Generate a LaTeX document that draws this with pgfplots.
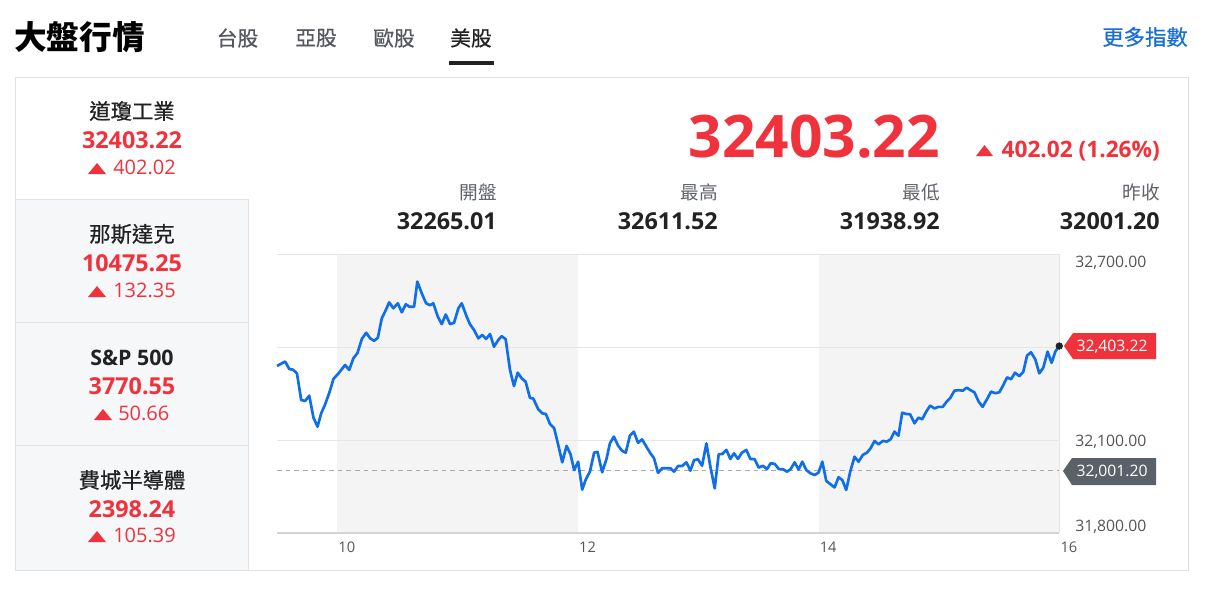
\documentclass[border=0pt]{standalone}
\usepackage{pgfplots}
\pgfplotsset{compat=1.18}
\usepackage{fontspec}
\setmainfont{Open Sans}
\newfontfamily\cjk{Noto Sans CJK TC}
\newfontfamily\cjkmed[FakeBold=0.6]{Noto Sans CJK TC}
\newcommand{\fsz}[1]{\fontsize{#1}{#1}\selectfont}
\definecolor{upred}{HTML}{F0323C}
\definecolor{lineblue}{HTML}{106EEB}
\definecolor{band}{HTML}{F4F4F5}
\definecolor{panel}{HTML}{F6F7F9}
\definecolor{bordergray}{HTML}{E2E2E2}
\definecolor{gridgray}{HTML}{E6E6E6}
\definecolor{axisgray}{HTML}{D2D4D8}
\definecolor{dashgray}{HTML}{AAAAAA}
\definecolor{darktext}{HTML}{222222}
\definecolor{graytext}{HTML}{5F6368}
\definecolor{tabgray}{HTML}{55595E}
\definecolor{tickgray}{HTML}{555555}
\definecolor{taggray}{HTML}{5B6168}
\definecolor{linkblue}{HTML}{1A6FD6}
\begin{document}
\begin{tikzpicture}
\begin{scope}[x=0.75pt,y=-0.75pt]
 \fill[white] (0,0) rectangle (1212,594);
 % header
 \node[anchor=west, inner sep=0, text=black, font=\cjk\bfseries\fsz{24.5pt}] at (14,37) {大盤行情};
 \node[inner sep=0, text=tabgray, font=\cjkmed\fsz{15.5pt}] at (237.5,38) {台股};
 \node[inner sep=0, text=tabgray, font=\cjkmed\fsz{15.5pt}] at (316,38) {亞股};
 \node[inner sep=0, text=tabgray, font=\cjkmed\fsz{15.5pt}] at (394,38) {歐股};
 \node[inner sep=0, text=darktext, font=\cjkmed\fsz{15.5pt}] at (471,38) {美股};
 \fill[darktext] (449,61) rectangle (494,65);
 \node[anchor=east, inner sep=0, text=linkblue, font=\cjkmed\fsz{16pt}] at (1188,37) {更多指數};
 % box and left panel
 \fill[panel] (15,199) rectangle (248,570);
 \draw[bordergray, line width=0.75pt] (15,77) rectangle (1188,570);
 \draw[bordergray, line width=0.75pt] (15,199) -- (248,199) (15,322) -- (248,322) (15,445) -- (248,445) (248,199) -- (248,570);
 % rows
 \node[inner sep=0, text=darktext, font=\cjkmed\fsz{16pt}] at (132,111) {道瓊工業};
 \node[anchor=base, inner sep=0, text=upred, font=\bfseries\fsz{17.5pt}] at (132,148) {32403.22};
 \fill[upred] (88,174) -- (106,174) -- (97,163) -- cycle;
 \node[anchor=base west, inner sep=0, text=upred, font=\fsz{15pt}] at (113,174) {402.02};
 \node[inner sep=0, text=darktext, font=\cjkmed\fsz{16pt}] at (132,234) {那斯達克};
 \node[anchor=base, inner sep=0, text=upred, font=\bfseries\fsz{17.5pt}] at (132,271) {10475.25};
 \fill[upred] (88,297) -- (106,297) -- (97,286) -- cycle;
 \node[anchor=base west, inner sep=0, text=upred, font=\fsz{15pt}] at (113,297) {132.35};
 \node[anchor=base, inner sep=0, text=darktext, font=\bfseries\fsz{16pt}] at (132,365.5) {S\&P 500};
 \node[anchor=base, inner sep=0, text=upred, font=\bfseries\fsz{17.5pt}] at (132,394) {3770.55};
 \fill[upred] (94,420) -- (112,420) -- (103,409) -- cycle;
 \node[anchor=base west, inner sep=0, text=upred, font=\fsz{15pt}] at (118,420) {50.66};
 \node[inner sep=0, text=darktext, font=\cjkmed\fsz{16pt}] at (132,480) {費城半導體};
 \node[anchor=base, inner sep=0, text=upred, font=\bfseries\fsz{17.5pt}] at (132,517) {2398.24};
 \fill[upred] (88,542) -- (106,542) -- (97,531) -- cycle;
 \node[anchor=base west, inner sep=0, text=upred, font=\fsz{15pt}] at (113,542) {105.39};
 % main quote
 \node[anchor=base east, inner sep=0, text=upred, font=\bfseries\fsz{44pt}] at (940,157) {32403.22};
 \fill[upred] (976,156) -- (993,156) -- (984.5,145) -- cycle;
 \node[anchor=base east, inner sep=0, text=upred, font=\bfseries\fsz{17pt}] at (1160,157) {402.02 (1.26\%)};
 \node[anchor=east, inner sep=0, text=graytext, font=\cjk\fsz{14pt}] at (497,192) {開盤};
 \node[anchor=east, inner sep=0, text=graytext, font=\cjk\fsz{14pt}] at (718,192) {最高};
 \node[anchor=east, inner sep=0, text=graytext, font=\cjk\fsz{14pt}] at (940,192) {最低};
 \node[anchor=east, inner sep=0, text=graytext, font=\cjk\fsz{14pt}] at (1160,192) {昨收};
 \node[anchor=base east, inner sep=0, text=darktext, font=\bfseries\fsz{17.5pt}] at (497,229) {32265.01};
 \node[anchor=base east, inner sep=0, text=darktext, font=\bfseries\fsz{17.5pt}] at (718,229) {32611.52};
 \node[anchor=base east, inner sep=0, text=darktext, font=\bfseries\fsz{17.5pt}] at (940,229) {31938.92};
 \node[anchor=base east, inner sep=0, text=darktext, font=\bfseries\fsz{17.5pt}] at (1160,229) {32001.20};
 % y labels
 \node[anchor=base west, inner sep=0, text=tickgray, font=\fsz{11.8pt}] at (1075,267.5) {32,700.00};
 \node[anchor=base west, inner sep=0, text=tickgray, font=\fsz{11.8pt}] at (1075,446.5) {32,100.00};
 \node[anchor=base west, inner sep=0, text=tickgray, font=\fsz{11.8pt}] at (1075,531.5) {31,800.00};
 % tags
 \fill[upred] (1064,346) -- (1073,333) -- (1156,333) -- (1156,359) -- (1073,359) -- cycle;
 \node[anchor=base, inner sep=0, text=white, font=\fsz{11.8pt}] at (1112,351.5) {32,403.22};
 \fill[taggray] (1063,471) -- (1072,458) -- (1156,458) -- (1156,485) -- (1072,485) -- cycle;
 \node[anchor=base, inner sep=0, text=white, font=\fsz{11.8pt}] at (1112,476.5) {32,001.20};
\end{scope}
\begin{axis}[at={(207.75pt,-399.75pt)}, anchor=south west, scale only axis,
  width=586.7pt, height=209.25pt,
  xmin=9.5, xmax=16, ymin=31800, ymax=32700,
  axis line style={draw=none}, major tick length=0pt,
  xtick={10,12,14,16}, xticklabels={10,12,14,16}, ytick=\empty,
  xticklabel style={anchor=north west, inner sep=0pt, xshift=0.75pt, yshift=-6.5pt, text=tickgray, font=\fsz{11pt}},
  clip=false]
 \fill[band] (axis cs:10,31800) rectangle (axis cs:12,32700);
 \fill[band] (axis cs:14,31800) rectangle (axis cs:16,32700);
 \draw[gridgray, line width=0.75pt] (axis cs:9.5,32700) -- (axis cs:16,32700)
   (axis cs:9.5,32400) -- (axis cs:16,32400) (axis cs:9.5,32100) -- (axis cs:16,32100)
   (axis cs:16,31800) -- (axis cs:16,32700);
 \draw[axisgray, line width=1.1pt] (axis cs:9.5,31800) -- (axis cs:16,31800);
 \draw[dashgray, line width=1.1pt, dash pattern=on 3.5pt off 3pt] (axis cs:9.5,32001.2) -- (axis cs:16,32001.2);
 \addplot[lineblue, line width=2pt, line join=round, mark=none] coordinates {
(9.500,32339) (9.568,32353) (9.602,32329) (9.632,32327) (9.666,32315) (9.701,32229) (9.734,32226) (9.768,32243) (9.803,32172) (9.837,32143) (9.867,32186) (9.900,32215) (9.936,32254) (9.969,32297) (10.011,32315) (10.066,32342) (10.100,32326) (10.135,32364) (10.168,32380) (10.205,32426) (10.241,32446) (10.274,32428) (10.307,32420) (10.338,32430) (10.371,32493) (10.404,32519) (10.432,32544) (10.467,32525) (10.504,32541) (10.537,32512) (10.570,32538) (10.600,32530) (10.639,32530) (10.666,32611) (10.703,32573) (10.739,32541) (10.772,32535) (10.799,32541) (10.836,32498) (10.869,32474) (10.902,32505) (10.938,32474) (10.971,32478) (11.007,32525) (11.035,32541) (11.076,32498) (11.104,32473) (11.137,32455) (11.173,32428) (11.206,32439) (11.237,32426) (11.270,32442) (11.303,32401) (11.339,32423) (11.367,32435) (11.400,32425) (11.436,32326) (11.469,32274) (11.500,32317) (11.533,32299) (11.566,32288) (11.602,32236) (11.629,32234) (11.671,32199) (11.704,32186) (11.734,32184) (11.768,32152) (11.803,32138) (11.837,32084) (11.870,32028) (11.906,32081) (11.939,32054) (11.969,32003) (12.002,32030) (12.036,31940) (12.066,31973) (12.100,31998) (12.135,32059) (12.163,32062) (12.202,31996) (12.238,32039) (12.266,32089) (12.299,32111) (12.334,32082) (12.368,32065) (12.398,32059) (12.432,32114) (12.465,32127) (12.500,32091) (12.534,32102) (12.570,32078) (12.603,32057) (12.633,32041) (12.666,31994) (12.700,32009) (12.736,32009) (12.769,32009) (12.799,31998) (12.832,32016) (12.866,32016) (12.902,32028) (12.935,32001) (12.965,32035) (12.998,32038) (13.032,32017) (13.068,32089) (13.101,32014) (13.137,31944) (13.170,32054) (13.201,32055) (13.234,32068) (13.267,32039) (13.297,32057) (13.330,32039) (13.363,32059) (13.400,32068) (13.433,32039) (13.469,32038) (13.502,32011) (13.538,32017) (13.571,32006) (13.602,32025) (13.635,32023) (13.671,32006) (13.704,32006) (13.737,31998) (13.768,32006) (13.801,32028) (13.834,32005) (13.865,32030) (13.898,32003) (13.931,31993) (13.967,31987) (14.000,31995) (14.031,32030) (14.064,31968) (14.097,31958) (14.133,31947) (14.166,31980) (14.197,31971) (14.230,31939) (14.263,31998) (14.299,32046) (14.332,32030) (14.368,32052) (14.401,32059) (14.432,32073) (14.465,32097) (14.498,32086) (14.534,32097) (14.567,32095) (14.598,32102) (14.631,32127) (14.664,32114) (14.695,32188) (14.728,32184) (14.761,32183) (14.797,32154) (14.830,32172) (14.861,32167) (14.894,32191) (14.927,32211) (14.963,32202) (14.996,32207) (15.032,32207) (15.065,32224) (15.095,32236) (15.129,32259) (15.162,32261) (15.198,32259) (15.231,32269) (15.261,32261) (15.295,32254) (15.330,32224) (15.363,32207) (15.400,32232) (15.433,32256) (15.469,32251) (15.502,32254) (15.535,32277) (15.566,32302) (15.599,32296) (15.632,32317) (15.668,32306) (15.701,32320) (15.732,32372) (15.765,32383) (15.801,32360) (15.834,32315) (15.867,32333) (15.903,32385) (15.936,32349) (15.967,32385) (16.000,32403.22)
 };
 \addplot[only marks, mark=*, mark size=2.5pt, color=darktext] coordinates {(16,32403.22)};
\end{axis}
\end{tikzpicture}
\end{document}
